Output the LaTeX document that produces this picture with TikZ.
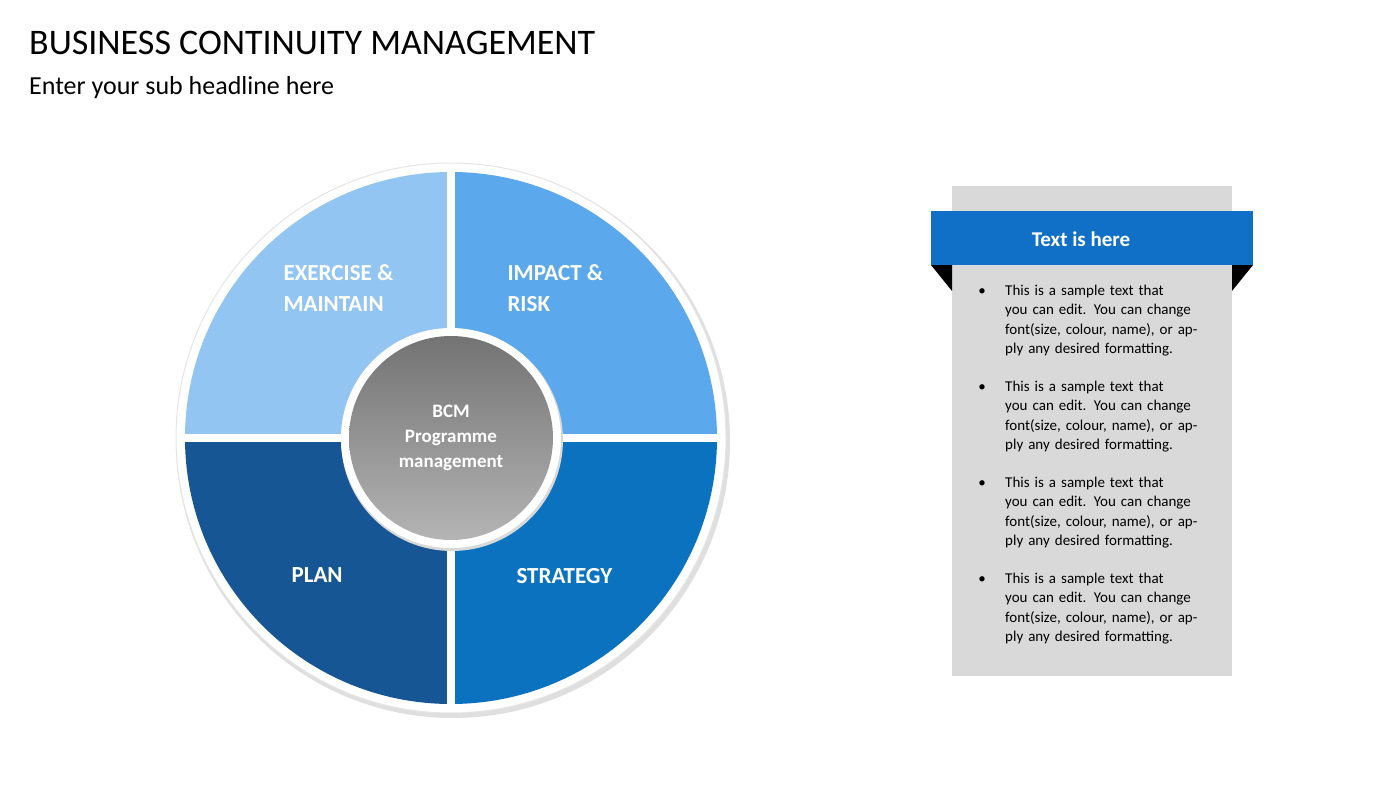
\documentclass[tikz,border=0pt]{standalone}
\usepackage{fontspec}
\setmainfont{Carlito}
\usetikzlibrary{positioning}
\usetikzlibrary{calc}
\definecolor{qlight}{RGB}{147,197,242}
\definecolor{qmid}{RGB}{91,168,236}
\definecolor{qdark}{RGB}{22,86,148}
\definecolor{qdeep}{RGB}{11,114,192}
\definecolor{bannerblue}{RGB}{16,112,200}
\definecolor{panelgray}{RGB}{217,217,217}
\tikzset{
  qlabel/.style={text=white,font=\fontsize{23}{31}\selectfont\bfseries,align=left,anchor=west},
  bullettext/.style={anchor=north west,text width=205pt,align=left,inner sep=0pt,
    font=\fontsize{15}{19.3}\selectfont},
}
\begin{document}
\begin{tikzpicture}[x=1pt,y=1pt]
\useasboundingbox (0,0) rectangle (1400,788);
% titles
\node[anchor=west,inner sep=0pt,font=\fontsize{36}{40}\selectfont] (title) at (29,745) {BUSINESS CONTINUITY MANAGEMENT};
\node[anchor=west,inner sep=0pt,font=\fontsize{26}{30}\selectfont] (sub) at (29,700) {Enter your sub headline here};
% wheel
\coordinate (c) at (451,350);
\fill[gray!25] ($(c)+(2,-3)$) circle (277);
\fill[white] (c) circle (275);
\draw[gray!20,line width=1pt] (c) circle (275);
\fill[qlight] (c) -- ++(180:266) arc (180:90:266) -- cycle;
\fill[qmid] (c) -- ++(90:266) arc (90:0:266) -- cycle;
\fill[qdark] (c) -- ++(180:266) arc (180:270:266) -- cycle;
\fill[qdeep] (c) -- ++(270:266) arc (270:360:266) -- cycle;
\draw[white,line width=8pt] ($(c)+(-270,0)$) -- ($(c)+(270,0)$) ($(c)+(0,-270)$) -- ($(c)+(0,270)$);
\fill[gray!30] ($(c)+(1,-2)$) circle (111);
\fill[white] (c) circle (110);
\shade[top color={rgb,255:red,115;green,115;blue,115},bottom color={rgb,255:red,180;green,180;blue,180}] (c) circle (102);
\node[text=white,font=\fontsize{19}{25}\selectfont\bfseries,align=center] (bcm) at (c) {BCM\\Programme\\management};
\node[qlabel] (exercise) at (280,500) {EXERCISE \&\\MAINTAIN};
\node[qlabel] (impact) at (504,500) {IMPACT \&\\RISK};
\node[qlabel] (plan) at (288,213) {PLAN};
\node[qlabel] (strategy) at (513,212) {STRATEGY};
% text panel
\fill[panelgray] (952,112) rectangle (1232,602);
\fill[black] (931,523) -- (952,523) -- (952,497) -- cycle;
\fill[black] (1253,523) -- (1232,523) -- (1232,497) -- cycle;
\fill[bannerblue] (931,523) rectangle (1253,577);
\node[text=white,font=\fontsize{21}{25}\selectfont\bfseries] (banner) at (1081,549) {Text is here};
\foreach \y [count=\i] in {503,407,311,215}{
  \node[font=\fontsize{15}{19}\selectfont,anchor=north] (dot\i) at (982,\y) {\textbullet};
  \node[bullettext] (txt\i) at (1005,\y) {This is a sample text that you can edit. You can change font(size, colour, name), or apply any desired formatting.};
}
\end{tikzpicture}
\end{document}
